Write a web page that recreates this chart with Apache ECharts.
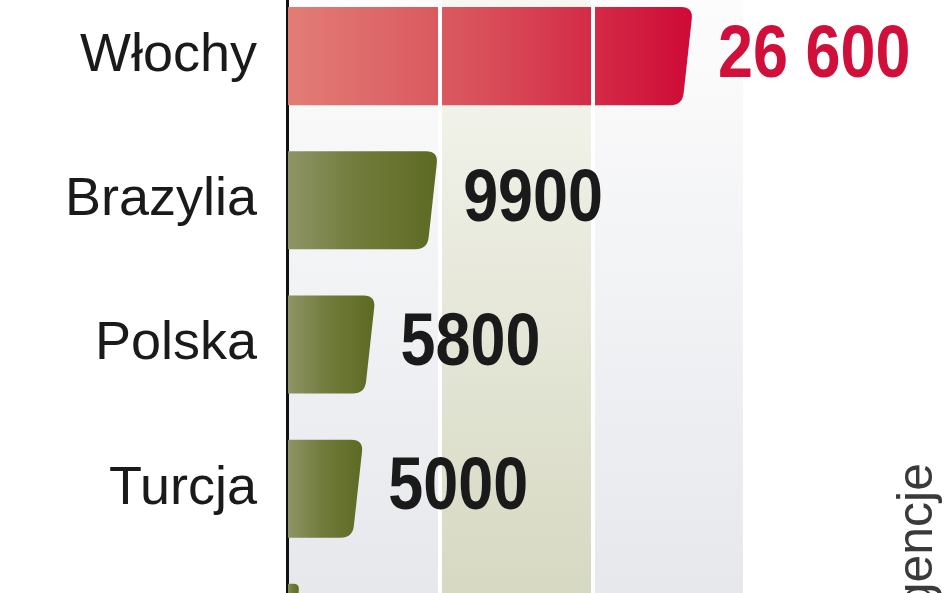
<!DOCTYPE html>
<html>
<head>
<meta charset="utf-8">
<script src="https://cdn.jsdelivr.net/npm/echarts@6/dist/echarts.min.js"></script>
<style>
html,body{margin:0;padding:0;background:#ffffff;}
#chart{width:948px;height:593px;}
</style>
</head>
<body>
<div id="chart"></div>
<script>
// Data
const categories = ['Włochy', 'Brazylia', 'Polska', 'Turcja', ''];
const values = [26600, 9900, 5800, 5000, 800];
const highlightIndex = 0;
const sourceText = 'agencje';

function fmt(v) {
  if (v >= 10000) {
    return String(v).replace(/\B(?=(\d{3})+(?!\d))/g, ' ');
  }
  return String(v);
}

const redGrad = {type:'linear', x:0, y:0, x2:1, y2:0, colorStops:[
  {offset:0, color:'#e27d76'}, {offset:0.5, color:'#d84d58'}, {offset:1, color:'#cf0a36'}]};
const greenGrad = {type:'linear', x:0, y:0, x2:1, y2:0, colorStops:[
  {offset:0, color:'#8e9466'}, {offset:0.45, color:'#727c3c'}, {offset:1, color:'#5d6a22'}]};
const grayCol = {type:'linear', x:0, y:0, x2:0, y2:1, colorStops:[
  {offset:0, color:'#fdfdfd'}, {offset:1, color:'#e2e4e9'}]};
const beigeCol = {type:'linear', x:0, y:0, x2:0, y2:1, colorStops:[
  {offset:0, color:'#f8f8f3'}, {offset:1, color:'#d0d3b9'}]};

const chart = echarts.init(document.getElementById('chart'), null, {renderer:'canvas'});

const seriesData = values.map((v, i) => [i, v]);

const option = {
  backgroundColor: '#ffffff',
  animation: false,
  grid: {left: 287, right: 203, top: -16, height: 721, containLabel: false, outerBoundsMode: 'none'},
  xAxis: {
    type: 'value', min: 0, max: 30000, interval: 10000,
    axisLabel: {show: false}, axisTick: {show: false}, axisLine: {show: false},
    splitLine: {show: true, lineStyle: {color: '#ffffff', width: 4}},
    splitArea: {show: true, areaStyle: {color: [grayCol, beigeCol, grayCol]}}
  },
  yAxis: {
    type: 'category', data: categories, inverse: true,
    axisTick: {show: false},
    axisLine: {show: true, lineStyle: {color: '#111111', width: 3}},
    axisLabel: {
      margin: 30, fontSize: 54, color: '#1a1a1a',
      fontFamily: '"Liberation Sans", Arial, sans-serif'
    },
    splitLine: {show: false}
  },
  series: [
    {
      type: 'custom',
      data: seriesData,
      encode: {x: 1, y: 0},
      z: 3,
      renderItem: function (params, api) {
        const idx = api.value(0);
        const val = api.value(1);
        const p0 = api.coord([0, idx]);
        const p1 = api.coord([val, idx]);
        const h = api.size([0, 1])[1] * 0.68;
        const y0 = p0[1] - h / 2, y1 = p0[1] + h / 2;
        const x0 = p0[0] + 1, xr = p1[0];
        const slant = Math.min(h * 0.11, Math.max(0, xr - x0 - 4));
        const r = Math.min(12, (xr - x0) / 2);
        const k = slant * r / h;
        const d = 'M' + x0 + ',' + y0 +
          ' L' + (xr - r) + ',' + y0 +
          ' Q' + xr + ',' + y0 + ' ' + (xr - k) + ',' + (y0 + r) +
          ' L' + (xr - slant + k) + ',' + (y1 - r) +
          ' Q' + (xr - slant) + ',' + y1 + ' ' + (xr - slant - r) + ',' + y1 +
          ' L' + x0 + ',' + y1 + ' Z';
        const isHi = idx === highlightIndex;
        return {type: 'path', shape: {pathData: d}, style: {fill: isHi ? redGrad : greenGrad}};
      }
    },
    {
      type: 'line', data: [], silent: true, z: 4,
      markLine: {
        silent: true, symbol: ['none', 'none'], label: {show: false},
        lineStyle: {color: '#ffffff', width: 4, type: 'solid'},
        data: [{xAxis: 10000}, {xAxis: 20000}]
      }
    },
    {
      type: 'custom',
      data: seriesData,
      encode: {x: 1, y: 0},
      z: 6,
      silent: true,
      renderItem: function (params, api) {
        const idx = api.value(0);
        const val = api.value(1);
        const p1 = api.coord([val, idx]);
        const isHi = idx === highlightIndex;
        return {type: 'text', x: p1[0] + 25, y: p1[1], scaleX: 0.85,
          style: {
            text: fmt(val), x: 0, y: 0,
            fill: isHi ? '#d0103a' : '#1a1a1a',
            fontSize: 74, fontWeight: 'bold',
            fontFamily: '"Liberation Sans", Arial, sans-serif',
            align: 'left', verticalAlign: 'middle'
          }};
      }
    }
  ],
  graphic: [
    {
      type: 'text', x: 918, y: 463, rotation: Math.PI / 2,
      style: {
        text: sourceText, fill: '#3a3a3a', fontSize: 50,
        fontFamily: '"Liberation Sans", Arial, sans-serif',
        align: 'right', verticalAlign: 'middle'
      }
    }
  ]
};
chart.setOption(option);
</script>
</body>
</html>
